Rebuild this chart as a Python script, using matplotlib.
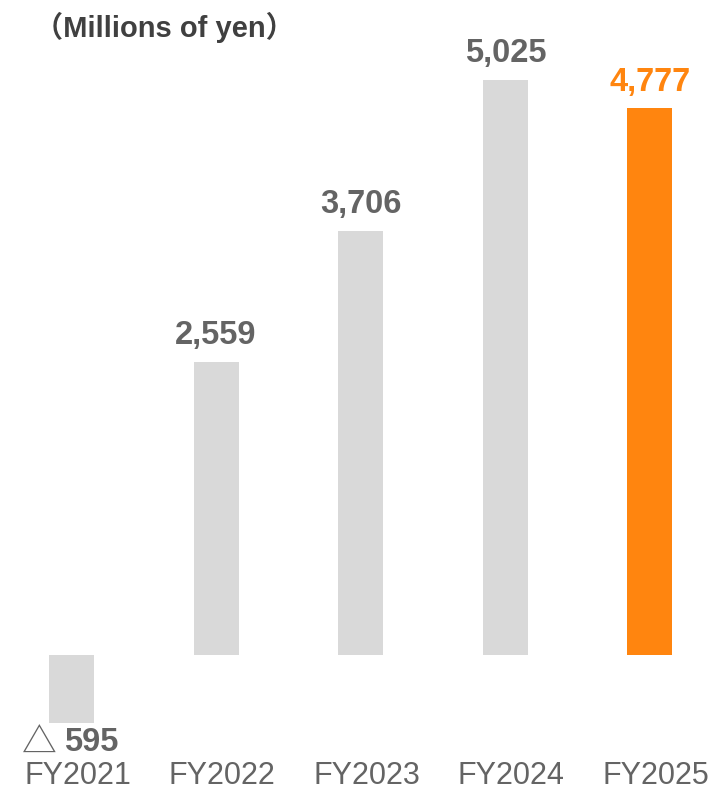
import matplotlib
matplotlib.use("Agg")
import matplotlib.pyplot as plt

# Operating profit by fiscal year (millions of yen)
categories = ["FY2021", "FY2022", "FY2023", "FY2024", "FY2025"]
values = [-595, 2559, 3706, 5025, 4777]
value_labels = ["595", "2,559", "3,706", "5,025", "4,777"]
unit_label = "（Millions of yen）"

GREY_BAR = "#D9D9D9"
ORANGE = "#FF850F"
TEXT = "#646464"

W, H, DPI = 723, 790, 100
fig = plt.figure(figsize=(W / DPI, H / DPI), dpi=DPI)
ax = fig.add_axes([0, 0, 1, 1])

# scale: pixels per category and per million yen
px_per_cat = 144.6
px_per_unit = 0.1145
x0_px = 71.5      # centre of first bar
zero_px = 655     # zero line from top

ax.set_xlim(-x0_px / px_per_cat, (W - x0_px) / px_per_cat)
ax.set_ylim(-(H - zero_px) / px_per_unit, zero_px / px_per_unit)
ax.axis("off")

xs = list(range(len(categories)))
colors = [GREY_BAR] * (len(categories) - 1) + [ORANGE]
ax.bar(xs, values, width=0.312, color=colors, linewidth=0)

bold = dict(family=["Liberation Sans", "DejaVu Sans"], fontweight="bold", fontsize=23.5)
regular = dict(family=["Liberation Sans", "DejaVu Sans"], fontsize=22)

for x, v, lab, c in zip(xs, values, value_labels, colors):
    col = ORANGE if c == ORANGE else TEXT
    if v >= 0:
        ax.annotate(lab, xy=(x, v), xytext=(0, 17.5), textcoords="offset pixels",
                    ha="center", va="baseline", color=col, **bold)
    else:
        ax.annotate(lab, xy=(x, v), xytext=(-7, -28), textcoords="offset pixels",
                    ha="left", va="baseline", color=col, **bold)
        ax.annotate("△", xy=(x, v), xytext=(-15, -31), textcoords="offset pixels",
                    ha="right", va="baseline", color=col,
                    family=["Noto Sans CJK JP", "DejaVu Sans"], fontsize=25)

for x, cat in zip(xs, categories):
    ax.annotate(cat, xy=(x, 0), xytext=(6, -129), textcoords="offset pixels",
                ha="center", va="baseline", color=TEXT, **regular)

fig.text(34 / W, 1 - 37 / H, unit_label, ha="left", va="baseline", color="#404040",
         family=["Liberation Sans", "Noto Sans CJK JP"], fontweight="bold", fontsize=21)

fig.savefig("out.png", dpi=DPI)
